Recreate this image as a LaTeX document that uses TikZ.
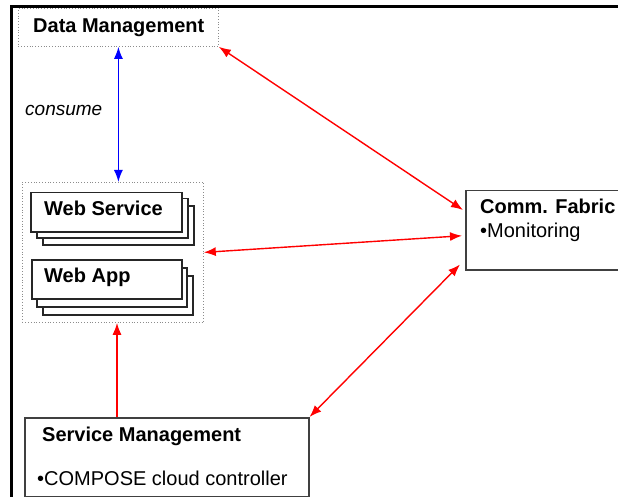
\documentclass[tikz,border=0pt]{standalone}
\usepackage{fontspec}
\setmainfont{Liberation Sans}
\usetikzlibrary{arrows.meta}
\begin{document}
\begin{tikzpicture}[x=1pt, y=-1pt, >={Latex[length=12pt,width=9pt]},
    hop/.style={draw=black!85, fill=white, line width=1.5pt, minimum width=151pt,
        minimum height=39pt, anchor=north west, inner sep=0pt},
    khung/.style={draw=black!75, fill=white, line width=1.5pt, anchor=north west, inner sep=0pt},
    nhom/.style={draw=black!45, dotted, line width=0.8pt, anchor=north west, inner sep=0pt},
    nhan/.style={anchor=base west, inner sep=0pt, font=\fontsize{20}{24}\selectfont},
    dam/.style={nhan, font=\fontsize{20}{24}\selectfont\bfseries},
    lienket/.style={red, line width=1.4pt}]
    \useasboundingbox (0,0) rectangle (618,497);
    \clip (0,0) rectangle (618,497);

    % Viền trái và viền trên
    \draw[line width=3pt] (11.5,497) -- (11.5,6.5) -- (618,6.5);

    % Data Management
    \node[nhom, minimum width=200pt, minimum height=38pt] (dm) at (18,8) {};
    \node[dam] (dmlbl) at (33,33) {Data Management};
    \node[nhan, font=\fontsize{19}{22}\selectfont\itshape] (consume) at (25,116) {consume};

    % Nhóm Web Service / Web App
    \node[nhom, minimum width=181pt, minimum height=140pt] (web) at (22,182) {};
    \foreach \i/\dx/\dy in {2/12/13, 1/6/6}
        \node[hop] (ws\i) at ({30+\dx},{192+\dy}) {};
    \node[hop] (ws) at (30,192) {};
    \node[dam] (wslbl) at (44,215) {Web Service};
    \foreach \i/\dx/\dy in {2/11/16, 1/5/8}
        \node[hop, minimum width=150pt] (wa\i) at ({31+\dx},{259+\dy}) {};
    \node[hop, minimum width=150pt] (wa) at (31,259) {};
    \node[dam] (walbl) at (44,282) {Web App};

    % Comm. Fabric
    \node[khung, minimum width=200pt, minimum height=79pt] (cf) at (465,190) {};
    \node[dam] (cflbl) at (480,213) {Comm. Fabric};
    \node[nhan] (cfmon) at (480,237) {•Monitoring};

    % Service Management
    \node[khung, minimum width=284pt, minimum height=79pt] (sm) at (24,417) {};
    \node[dam] (smlbl) at (42,441) {Service Management};
    \node[nhan] (smctl) at (37,485) {•COMPOSE cloud controller};
    \coordinate (smup) at (117,417);

    % Các mũi tên
    \draw[<->, blue, line width=1.4pt] (dm.south) -- (dm.south |- web.north);
    \draw[->, lienket, line width=1.6pt] (smup) -- (smup |- web.south);
    \draw[<->, lienket] (dm.south east) -- ([xshift=-2pt,yshift=-20pt]cf.north west);
    \draw[<->, lienket] (web.east) -- ([xshift=-3pt,yshift=-5.5pt]cf.west);
    \draw[<->, lienket] (sm.north east) -- ([xshift=-5pt,yshift=6pt]cf.south west);
\end{tikzpicture}
\end{document}
